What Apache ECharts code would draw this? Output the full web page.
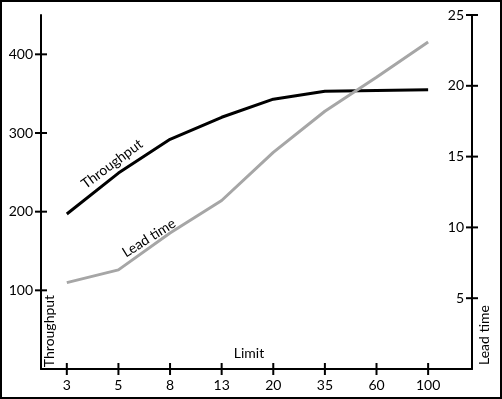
<!DOCTYPE html>
<html>
<head>
<meta charset="utf-8">
<script src="https://cdn.jsdelivr.net/npm/echarts@6/dist/echarts.min.js"></script>
<style>
  html, body { margin: 0; padding: 0; background: #fff; }
  #main { width: 502px; height: 399px; }
</style>
</head>
<body>
<div id="main"></div>
<script>
// limits on the x axis
var limits = ['3', '5', '8', '13', '20', '35', '60', '100'];
// throughput (left axis)
var throughput = [197, 249, 292, 320, 343, 353, 354, 355];
// lead time (right axis)
var leadTime = [6.1, 7.0, 9.6, 11.9, 15.3, 18.2, 20.6, 23.1];
var leftTicks = [100, 200, 300, 400];
var rightTicks = [5, 10, 15, 20, 25];

var font = 'Lato';
var xMin = -0.5, xMax = 7.85;
var idx = limits.map(function (l, i) { return i; });

function pairs(vals) {
  return vals.map(function (v, i) { return [i, v]; });
}

// ticks that cross the axis line, drawn through the axis scales
function crossTicks(yAxisIndex, data, horizontal) {
  return {
    type: 'custom', xAxisIndex: 0, yAxisIndex: yAxisIndex, silent: true, clip: false, z: 5,
    data: data,
    renderItem: function (params, api) {
      var p = api.coord([api.value(0), api.value(1)]);
      var shape = horizontal
        ? { x1: p[0] - 6, y1: p[1], x2: p[0] + 6, y2: p[1] }
        : { x1: p[0], y1: p[1] - 6, x2: p[0], y2: p[1] + 6 };
      return { type: 'line', shape: shape, style: { stroke: '#000', lineWidth: 2 } };
    }
  };
}

var myChart = echarts.init(document.getElementById('main'));
var option = {
  animation: false,
  backgroundColor: '#fff',
  grid: { left: 41, right: 30, top: 15, bottom: 30 },
  xAxis: {
    type: 'value', min: xMin, max: xMax,
    axisLine: { show: true, onZero: false, lineStyle: { color: '#000', width: 2 } },
    axisTick: { show: false },
    axisLabel: {
      customValues: idx, margin: 9, color: '#000', fontFamily: font, fontSize: 14,
      formatter: function (v) { return limits[Math.round(v)]; }
    },
    splitLine: { show: false }
  },
  yAxis: [
    {
      type: 'value', min: 0, max: 450, position: 'left',
      axisLine: { show: true, onZero: false, lineStyle: { color: '#000', width: 2 } },
      axisTick: { show: false },
      axisLabel: { customValues: leftTicks, margin: 8, color: '#000', fontFamily: font, fontSize: 14 },
      splitLine: { show: false }
    },
    {
      type: 'value', min: 0, max: 25, position: 'right',
      axisLine: { show: true, onZero: false, lineStyle: { color: '#000', width: 2 } },
      axisTick: { show: false },
      axisLabel: { inside: true, customValues: rightTicks, margin: 8, color: '#000', fontFamily: font, fontSize: 14 },
      splitLine: { show: false }
    }
  ],
  series: [
    {
      name: 'Throughput', type: 'line', yAxisIndex: 0,
      data: pairs(throughput), symbol: 'none',
      lineStyle: { color: '#000', width: 3 }
    },
    {
      name: 'Lead time', type: 'line', yAxisIndex: 1,
      data: pairs(leadTime), symbol: 'none',
      lineStyle: { color: '#a6a6a6', width: 3 }
    },
    crossTicks(0, idx.map(function (i) { return [i, 0]; }), false),
    crossTicks(0, leftTicks.map(function (v) { return [xMin, v]; }), true),
    crossTicks(1, rightTicks.map(function (v) { return [xMax, v]; }), true)
  ],
  graphic: [
    { type: 'rect', shape: { x: 1, y: 1, width: 500, height: 397 }, style: { fill: null, stroke: '#000', lineWidth: 2 }, silent: true },
    // axis names
    { type: 'text', x: 49, y: 331, rotation: Math.PI / 2,
      style: { text: 'Throughput', fill: '#000', font: '14px ' + font, align: 'center', verticalAlign: 'middle' } },
    { type: 'text', x: 484, y: 335, rotation: Math.PI / 2,
      style: { text: 'Lead time', fill: '#000', font: '14px ' + font, align: 'center', verticalAlign: 'middle' } },
    { type: 'text', x: 249, y: 353,
      style: { text: 'Limit', fill: '#000', font: '14px ' + font, align: 'center', verticalAlign: 'middle' } },
    // line labels
    { type: 'text', x: 112, y: 164, rotation: 0.64,
      style: { text: 'Throughput', fill: '#000', font: '14px ' + font, align: 'center', verticalAlign: 'middle' } },
    { type: 'text', x: 149, y: 238, rotation: 0.56,
      style: { text: 'Lead time', fill: '#000', font: '14px ' + font, align: 'center', verticalAlign: 'middle' } }
  ]
};
myChart.setOption(option);
</script>
</body>
</html>
